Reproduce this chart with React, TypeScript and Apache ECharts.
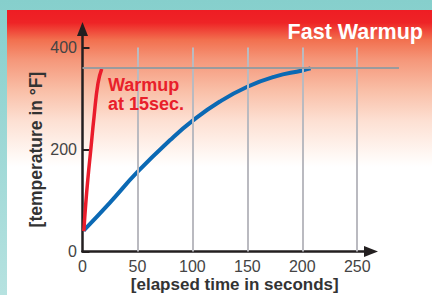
import React, { useEffect, useRef } from "react";
import * as echarts from "echarts";

const xTicks = [0, 50, 100, 150, 200, 250];
const yTicks = [0, 200, 400];
const gridX = [50, 100, 150, 200, 250];
const targetTemp = 360;
const fastWarmup: [number, number][] = [
  [1.2, 40], [3, 95], [5, 145], [7.5, 199], [10.5, 264], [14.1, 330], [17.5, 358],
];
const standardWarmup: [number, number][] = [
  [1, 41], [25, 96], [50, 156], [79.5, 218], [100, 256], [125, 294], [150, 323], [175, 343], [200, 355], [207.5, 359],
];
const titleText = "Fast Warmup";
const noteText = "Warmup\nat 15sec.";
const xName = "[elapsed time in seconds]";
const yName = "[temperature in \u00b0F]";

const FONT = '"Liberation Sans", Arial, sans-serif';

export default function App() {
  const ref = useRef<HTMLDivElement>(null);
  useEffect(() => {
    if (!ref.current) return;
    const chart = echarts.init(ref.current, null, { renderer: "svg" });
    const G = echarts.graphic;
    const option: any = {
      animation: false,
      backgroundColor: new G.LinearGradient(0, 0, 0, 1, [
        { offset: 0, color: "#86cfcc" },
        { offset: 1, color: "#b6e2e0" },
      ]),
      title: {
        text: titleText,
        right: 9,
        top: 21,
        padding: 0,
        textStyle: { color: "#ffffff", fontWeight: "bold", fontSize: 21.5, fontFamily: FONT },
      },
      graphic: [
        {
          type: "rect",
          z: -1,
          shape: { x: 7, y: 10, width: 425, height: 285 },
          style: {
            fill: new G.LinearGradient(0, 0, 0, 1, [
              { offset: 0, color: "#ee1d24" },
              { offset: 0.045, color: "#ee2426" },
              { offset: 0.105, color: "#f2704f" },
              { offset: 0.175, color: "#f5977a" },
              { offset: 0.28, color: "#f9bea6" },
              { offset: 0.39, color: "#fde0d3" },
              { offset: 0.51, color: "#fff8f4" },
              { offset: 0.55, color: "#ffffff" },
              { offset: 1, color: "#ffffff" },
            ]),
          },
        },
        {
          type: "text",
          z: 10,
          x: 108,
          y: 76,
          style: {
            text: noteText,
            font: `bold 18px ${FONT}`,
            fill: "#e8202a",
            lineHeight: 18.5,
          },
        },
      ],
      grid: [
        { left: 82.5, right: 33, top: 47.5, bottom: 43.5, outerBoundsMode: "none", containLabel: false },
        { left: 82.5, right: 61, top: 29, bottom: 43.5, outerBoundsMode: "none", containLabel: false },
      ],
      xAxis: [
        {
          type: "value",
          gridIndex: 0,
          min: 0,
          max: 288,
          interval: 50,
          axisLine: { show: false },
          axisTick: { show: false },
          splitLine: { show: false },
          axisLabel: {
            margin: 7,
            fontSize: 16,
            color: "#444444",
            fontFamily: FONT,
            formatter: (v: number) => (xTicks.includes(v) ? String(v) : ""),
          },
          name: xName,
          nameLocation: "middle",
          nameGap: 24,
          nameMoveOverlap: false,
          nameTextStyle: { fontSize: 17, fontWeight: "bold", color: "#333333", fontFamily: FONT, padding: [0, 12, 0, 0] },
        },
        {
          type: "value",
          gridIndex: 1,
          min: 0,
          max: 1,
          axisLine: {
            show: true,
            symbol: ["none", "triangle"],
            symbolSize: [11, 14],
            lineStyle: { color: "#231f20", width: 2.5 },
          },
          axisTick: { show: false },
          axisLabel: { show: false },
          splitLine: { show: false },
        },
      ],
      yAxis: [
        {
          type: "value",
          gridIndex: 0,
          min: 0,
          max: 400,
          interval: 200,
          axisLine: { show: false },
          axisTick: { show: true, inside: true, length: 7, lineStyle: { color: "#231f20", width: 2 } },
          splitLine: { show: false },
          axisLabel: {
            margin: 5.5,
            fontSize: 16,
            color: "#444444",
            fontFamily: FONT,
            formatter: (v: number) => (yTicks.includes(v) ? String(v) : ""),
          },
          name: yName,
          nameLocation: "middle",
          nameGap: 38,
          nameMoveOverlap: false,
          nameTextStyle: { fontSize: 17.5, fontWeight: "bold", color: "#333333", fontFamily: FONT },
        },
        {
          type: "value",
          gridIndex: 1,
          min: 0,
          max: 1,
          axisLine: {
            show: true,
            symbol: ["none", "triangle"],
            symbolSize: [11, 14],
            lineStyle: { color: "#231f20", width: 2.5 },
          },
          axisTick: { show: false },
          axisLabel: { show: false },
          splitLine: { show: false },
        },
      ],
      series: [
        {
          type: "line",
          xAxisIndex: 0,
          yAxisIndex: 0,
          data: [],
          z: 1,
          silent: true,
          markLine: {
            silent: true,
            symbol: ["none", "none"],
            label: { show: false },
            lineStyle: { color: "#babac0", width: 2, type: "solid" },
            data: gridX.map((x) => ({ xAxis: x })),
          },
        },
        {
          type: "line",
          xAxisIndex: 0,
          yAxisIndex: 0,
          data: [],
          z: 1,
          silent: true,
          markLine: {
            silent: true,
            symbol: ["none", "none"],
            label: { show: false },
            lineStyle: { color: "#9a9b9d", width: 2, type: "solid" },
            data: [{ yAxis: targetTemp }],
          },
        },
        {
          type: "line",
          xAxisIndex: 0,
          yAxisIndex: 0,
          data: standardWarmup,
          smooth: true,
          showSymbol: false,
          z: 3,
          lineStyle: { color: "#0b69b4", width: 4, cap: "butt" },
        },
        {
          type: "line",
          xAxisIndex: 0,
          yAxisIndex: 0,
          data: fastWarmup,
          smooth: true,
          showSymbol: false,
          z: 4,
          lineStyle: { color: "#ea1c2b", width: 3.5, cap: "butt" },
        },
      ],
    };
    chart.setOption(option);
    return () => chart.dispose();
  }, []);
  return (
    <div
      ref={ref}
      style={{ position: "absolute", left: 0, top: 0, width: 432, height: 295 }}
    />
  );
}
